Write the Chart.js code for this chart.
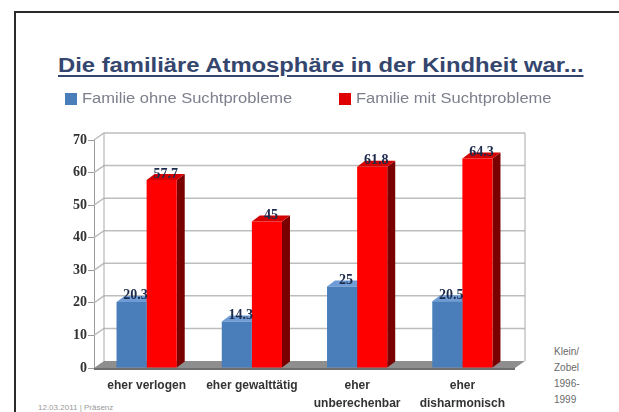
<!DOCTYPE html>
<html>
<head>
<meta charset="utf-8">
<script src="https://cdn.jsdelivr.net/npm/chart.js@4"></script>
<style>
  html, body { margin: 0; padding: 0; background: #fff; }
  body { width: 619px; height: 412px; position: relative; overflow: hidden; font-family: "Liberation Sans", Arial, sans-serif; }
  #frame { position: absolute; left: 14px; top: 11px; width: 700px; height: 500px; border: 2px solid #2a2a2a; box-sizing: border-box; }
  #title { position: absolute; left: 58px; top: 54px; font-size: 20px; font-weight: bold; color: #34466e; text-decoration: underline; text-decoration-thickness: 2px; text-underline-offset: 3px; white-space: nowrap; transform-origin: 0 0; transform: scaleX(1.19); }
  #source { position: absolute; left: 554px; top: 344px; font-size: 10px; line-height: 16px; color: #6a6a6a; }
  #footer { position: absolute; left: 38px; top: 403px; font-size: 8px; color: #9a9a9a; }
  #wrap { position: absolute; left: 0; top: 0; width: 619px; height: 412px; }
</style>
</head>
<body>
<div id="frame"></div>
<div id="title">Die familiäre Atmosphäre in der Kindheit war...</div>
<div id="source">Klein/<br>Zobel<br>1996-<br>1999</div>
<div id="footer">12.03.2011 | Präsenz</div>
<div id="wrap"><canvas id="c" width="619" height="412"></canvas></div>
<script>
// data
const categories = ['eher verlogen', 'eher gewalttätig', ['eher', 'unberechenbar'], ['eher', 'disharmonisch']];
const seriesNames = ['Familie ohne Suchtprobleme', 'Familie mit Suchtprobleme'];
const ohneSucht = [20.3, 14.3, 25, 20.5];
const mitSucht = [57.7, 45, 61.8, 64.3];
const yMax = 70;
const yStep = 10;

const DX = 8, DY = -6;     // bar depth
const WX = 10, WY = -7;    // wall depth

const faceColors = [
  { top: '#6f9bd6', side: '#34598a' },
  { top: '#d40000', side: '#7a0000' }
];

const wallPlugin = {
  id: 'walls',
  beforeDatasetsDraw(chart) {
    const { ctx, chartArea: a, scales: { y } } = chart;
    ctx.save();
    // gridlines on back wall + side wall
    ctx.strokeStyle = '#bdbdbd';
    ctx.lineWidth = 1.5;
    for (let v = yStep; v <= yMax; v += yStep) {
      const py = y.getPixelForValue(v);
      ctx.beginPath();
      ctx.moveTo(a.left, py);
      ctx.lineTo(a.left + WX, py + WY);
      ctx.lineTo(a.right + WX, py + WY);
      ctx.stroke();
    }
    ctx.strokeStyle = '#a8a8a8';
    ctx.lineWidth = 1;
    ctx.beginPath();
    ctx.moveTo(a.left + WX, a.bottom + WY);
    ctx.lineTo(a.left + WX, a.top + WY);
    ctx.moveTo(a.right + WX, a.bottom + WY);
    ctx.lineTo(a.right + WX, a.top + WY);
    ctx.stroke();
    // floor
    ctx.fillStyle = '#8e8e8e';
    ctx.beginPath();
    ctx.moveTo(a.left, a.bottom);
    ctx.lineTo(a.left + WX, a.bottom + WY);
    ctx.lineTo(a.right + WX, a.bottom + WY);
    ctx.lineTo(a.right, a.bottom);
    ctx.closePath();
    ctx.fill();
    ctx.fillStyle = '#6e6e6e';
    ctx.fillRect(a.left, a.bottom, a.right - a.left, 2);

    // 3D faces of bars, drawn behind the fronts
    chart.data.datasets.forEach((ds, i) => {
      const meta = chart.getDatasetMeta(i);
      meta.data.forEach(bar => {
        const l = bar.x - bar.width / 2, r = bar.x + bar.width / 2;
        ctx.fillStyle = faceColors[i].side;
        ctx.beginPath();
        ctx.moveTo(r, bar.y);
        ctx.lineTo(r + DX, bar.y + DY);
        ctx.lineTo(r + DX, bar.base + DY);
        ctx.lineTo(r, bar.base);
        ctx.closePath();
        ctx.fill();
        ctx.fillStyle = faceColors[i].top;
        ctx.beginPath();
        ctx.moveTo(l, bar.y);
        ctx.lineTo(l + DX, bar.y + DY);
        ctx.lineTo(r + DX, bar.y + DY);
        ctx.lineTo(r, bar.y);
        ctx.closePath();
        ctx.fill();
      });
    });
    ctx.restore();
  },
  afterDatasetsDraw(chart) {
    const { ctx } = chart;
    ctx.save();
    ctx.font = 'bold 14px "Liberation Serif", "Times New Roman", serif';
    ctx.fillStyle = '#1c2b4c';
    ctx.textAlign = 'center';
    ctx.textBaseline = 'middle';
    chart.data.datasets.forEach((ds, i) => {
      chart.getDatasetMeta(i).data.forEach((bar, j) => {
        ctx.fillText(String(ds.data[j]), bar.x + 4, bar.y - 6);
      });
    });
    ctx.restore();
  }
};

const legendPlugin = {
  id: 'topLegend',
  afterDraw(chart) {
    const { ctx } = chart;
    const items = [
      { x: 65, color: '#4a7ebb', text: seriesNames[0] },
      { x: 339, color: '#e00000', text: seriesNames[1] }
    ];
    ctx.save();
    ctx.font = '14px "Liberation Sans", Arial, sans-serif';
    ctx.textBaseline = 'middle';
    items.forEach(it => {
      ctx.fillStyle = it.color;
      ctx.fillRect(it.x, 93, 12, 12);
      ctx.save();
      ctx.translate(it.x + 17, 99.5);
      ctx.scale(1.18, 1);
      ctx.fillStyle = '#7c7f8c';
      ctx.fillText(it.text, 0, 0);
      ctx.restore();
    });
    ctx.restore();
  }
};

new Chart(document.getElementById('c'), {
  type: 'bar',
  data: {
    labels: categories,
    datasets: [
      { label: seriesNames[0], data: ohneSucht, backgroundColor: '#4a7ebb' },
      { label: seriesNames[1], data: mitSucht, backgroundColor: '#ff0000' }
    ]
  },
  options: {
    responsive: false,
    animation: false,
    events: [],
    layout: { padding: { left: 65, right: 104, top: 140, bottom: 0 } },
    datasets: { bar: { categoryPercentage: 0.572, barPercentage: 1.0, borderWidth: 0 } },
    plugins: {
      legend: { display: false },
      tooltip: { enabled: false }
    },
    scales: {
      x: {
        afterFit: s => { s.height = 44; },
        grid: { display: false, drawTicks: false },
        border: { display: false },
        ticks: {
          padding: 9,
          maxRotation: 0,
          autoSkip: false,
          color: '#333',
          font: { family: '"Liberation Sans", Arial, sans-serif', size: 12, weight: 'bold', lineHeight: 1.5 }
        }
      },
      y: {
        min: 0,
        max: yMax,
        afterFit: s => { s.width = 29; },
        grid: { drawOnChartArea: false, tickLength: 6, color: '#9a9a9a' },
        border: { color: '#9a9a9a' },
        ticks: {
          stepSize: yStep,
          padding: 1,
          color: '#333',
          font: { family: '"Liberation Serif", "Times New Roman", serif', size: 14, weight: 'bold' }
        }
      }
    }
  },
  plugins: [wallPlugin, legendPlugin]
});
</script>
</body>
</html>
